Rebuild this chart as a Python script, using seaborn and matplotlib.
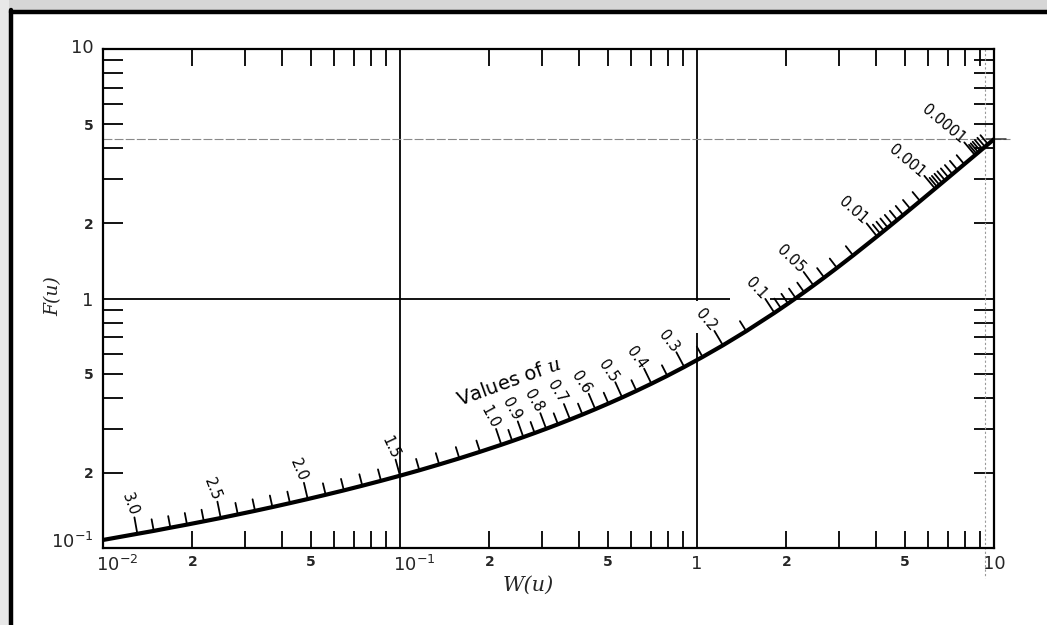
import numpy as np
import pandas as pd
import matplotlib
matplotlib.use("Agg")
import matplotlib.pyplot as plt
from matplotlib.transforms import ScaledTranslation
from matplotlib.patches import Rectangle
from matplotlib.lines import Line2D
import seaborn as sns

# ---------------- data ----------------
# tick marks along the curve: value of u, W(u) and F(u) at each mark
u_ticks = [3.0, 2.9, 2.8, 2.7, 2.6, 2.5, 2.4, 2.3, 2.2, 2.1, 2.0, 1.9, 1.8, 1.7,
           1.6, 1.5, 1.4, 1.3, 1.2, 1.1, 1.0, 0.95, 0.9, 0.85, 0.8, 0.75, 0.7,
           0.65, 0.6, 0.55, 0.5, 0.45, 0.4, 0.35, 0.3, 0.25, 0.2, 0.15, 0.1,
           0.09, 0.08, 0.07, 0.06, 0.05, 0.04, 0.03, 0.02, 0.01, 0.009, 0.008,
           0.007, 0.006, 0.005, 0.004, 0.003, 0.002, 0.001, 0.0009, 0.0008,
           0.0007, 0.0006, 0.0005, 0.0004, 0.0003, 0.0002, 0.0001, 0.00009,
           0.00008, 0.00007, 0.00006, 0.00005, 0.00004]
W_ticks = [0.01305, 0.01482, 0.01686, 0.01918, 0.02185, 0.02491, 0.02844,
           0.03250, 0.03719, 0.04261, 0.04890, 0.05620, 0.06471, 0.07465,
           0.08631, 0.1000, 0.1162, 0.1355, 0.1584, 0.1860, 0.2194, 0.2387,
           0.2602, 0.2840, 0.3106, 0.3403, 0.3738, 0.4115, 0.4544, 0.5034,
           0.5598, 0.6253, 0.7024, 0.7942, 0.9057, 1.0443, 1.2227, 1.4645,
           1.8229, 1.9187, 2.0269, 2.1508, 2.2953, 2.4679, 2.6813, 2.9591,
           3.3547, 4.0379, 4.1423, 4.2591, 4.3916, 4.5448, 4.7261, 4.9482,
           5.2349, 5.6394, 6.3315, 6.4361, 6.5530, 6.6864, 6.8399, 7.0242,
           7.2472, 7.5348, 7.9402, 8.6332, 8.7386, 8.8563, 8.9899, 9.1440,
           9.3263, 9.5495]
F_ticks = [0.1140, 0.1171, 0.1206, 0.1241, 0.1279, 0.1319, 0.1363, 0.1409,
           0.1459, 0.1513, 0.1571, 0.1634, 0.1702, 0.1777, 0.1859, 0.1949,
           0.2049, 0.2162, 0.2287, 0.2430, 0.2593, 0.2684, 0.2783, 0.2889,
           0.3005, 0.3132, 0.3273, 0.3427, 0.3600, 0.3794, 0.4013, 0.4264,
           0.4556, 0.4900, 0.5316, 0.5830, 0.6493, 0.7398, 0.8759, 0.9128,
           0.9547, 1.0029, 1.0596, 1.1280, 1.2134, 1.3258, 1.4880, 1.7733,
           1.8173, 1.8667, 1.9228, 1.9879, 2.0651, 2.1600, 2.2829, 2.4568,
           2.7556, 2.8008, 2.8514, 2.9092, 2.9757, 3.0555, 3.1522, 3.2770,
           3.4530, 3.7539, 3.7997, 3.8509, 3.9089, 3.9759, 4.0551, 4.1521]
# ends of the curve (at the left and right frame)
curve_start = (0.01, 0.1077)
curve_end = (10.0, 4.35)

labeled_u = [3.0, 2.5, 2.0, 1.5, 1.0, 0.9, 0.8, 0.7, 0.6, 0.5, 0.4, 0.3, 0.2,
             0.1, 0.05, 0.01, 0.001, 0.0001]
labeled_text = ["3.0", "2.5", "2.0", "1.5", "1.0", "0.9", "0.8", "0.7", "0.6",
                "0.5", "0.4", "0.3", "0.2", "0.1", "0.05", "0.01", "0.001",
                "0.0001"]

x_major = [0.01, 0.1, 1, 10]
x_major_labels = [r"$\mathregular{10^{-2}}$", r"$\mathregular{10^{-1}}$", "1", "10"]
y_major = [0.1, 1, 10]
y_major_labels = [r"$\mathregular{10^{-1}}$", "1", "10"]
x_minor = [k * 10.0 ** e for e in (-2, -1, 0) for k in range(2, 10)]
y_minor = [k * 10.0 ** e for e in (-1, 0) for k in range(2, 10)]
minor_names = {2: "2", 5: "5"}

# ---------------- style ----------------
sns.set_style("white")
plt.rcParams["font.family"] = ["DejaVu Sans"]
plt.rcParams["mathtext.fontset"] = "dejavuserif"

W_PX, H_PX = 1047, 625
fig = plt.figure(figsize=(W_PX / 100, H_PX / 100), dpi=100, facecolor="white")

# scanned-page frame
fig.add_artist(Rectangle((0, 1 - 10 / H_PX), 1, 10 / H_PX, transform=fig.transFigure,
                         facecolor="#d6d6d6", edgecolor="none"))
fig.add_artist(Rectangle((0, 0), 9 / W_PX, 1, transform=fig.transFigure,
                         facecolor="#e8e8e8", edgecolor="none"))
fig.add_artist(Line2D([11 / W_PX, 1], [1 - 11.5 / H_PX, 1 - 11.5 / H_PX],
                      transform=fig.transFigure, color="black", lw=3.2))
fig.add_artist(Line2D([11 / W_PX, 11 / W_PX], [0, 1 - 10 / H_PX],
                      transform=fig.transFigure, color="black", lw=3.2))

L, R, T, B = 103, 994, 49, 548
ax = fig.add_axes([L / W_PX, 1 - B / H_PX, (R - L) / W_PX, (B - T) / H_PX])
ax.set_xscale("log")
ax.set_yscale("log")
ax.set_xlim(0.01, 10)
ax.set_ylim(0.1, 10)
ax.set_facecolor("none")
for s in ax.spines.values():
    s.set_linewidth(1.6)
    s.set_color("black")


def minor_label(v):
    mant = int(round(v / 10 ** np.floor(np.log10(v) + 1e-9)))
    return minor_names.get(mant, "")


# ticks
ax.set_xticks(x_major, labels=x_major_labels, fontsize=13)
ax.set_yticks(y_major, labels=y_major_labels, fontsize=13)
ax.set_xticks(x_minor, labels=[minor_label(v) for v in x_minor], minor=True,
              fontsize=10, fontweight="bold")
ax.set_yticks(y_minor, labels=[minor_label(v) for v in y_minor], minor=True,
              fontsize=10, fontweight="bold")
ax.tick_params(which="both", direction="in", top=True, right=True, bottom=True,
               left=True, labeltop=False, labelright=False, labelbottom=True,
               labelleft=True, color="black", width=1.3)
ax.tick_params(which="major", length=0)
ax.tick_params(axis="x", which="minor", length=12.5)
ax.tick_params(axis="y", which="minor", length=14.5)
ax.tick_params(axis="x", which="both", pad=5)
ax.tick_params(axis="y", which="both", pad=7)

# nudge the power-of-ten labels as in the original
xl = ax.get_xticklabels()
for lab in xl[:2]:
    lab.set_transform(lab.get_transform() + ScaledTranslation(0.14, 0, fig.dpi_scale_trans))
yl = ax.get_yticklabels()
yl[0].set_transform(yl[0].get_transform() + ScaledTranslation(0, 0.08, fig.dpi_scale_trans))
yl[2].set_transform(yl[2].get_transform() + ScaledTranslation(0, 0.03, fig.dpi_scale_trans))

ax.set_xlabel("W(u)", family="DejaVu Serif", style="italic", fontsize=15)
ax.set_ylabel("F(u)", family="DejaVu Serif", style="italic", fontsize=13.5)
ax.xaxis.set_label_coords((528 - L) / (R - L), -(585 - B) / (B - T))
ax.yaxis.set_label_coords((53 - L) / (R - L), (B - 296) / (B - T))
ax.xaxis.label.set_va("center")
ax.yaxis.label.set_va("center")

# grid lines of the nomogram
kw = dict(color="black", lw=1.3, solid_capstyle="butt")
ax.plot([0.1, 0.1], [0.1, 10], **kw)
ax.plot([1, 1], [10, 0.975], **kw)
ax.plot([1, 1], [0.73, 0.1], **kw)
ax.plot([0.01, 1.29], [1, 1], **kw)
ax.plot([1.76, 10], [1, 1], **kw)
# faint scan guide lines
ax.plot([0.01, 11.3], [4.35, 4.35], color="#8a8a8a", lw=0.8, ls=(0, (8, 2)), clip_on=False)
ax.plot([9.4, 11.0], [4.35, 4.35], color="#333333", lw=1.1, clip_on=False)
ax.plot([9.33, 9.33], [10, 0.076], color="#9a9a9a", lw=0.8, ls=(0, (2, 2)), clip_on=False)

# the curve
df = pd.DataFrame({"W": [curve_start[0]] + W_ticks + [curve_end[0]],
                   "F": [curve_start[1]] + F_ticks + [curve_end[1]]})
df = df.sort_values("W")
sns.lineplot(data=df, x="W", y="F", color="black", lw=3.0, estimator=None,
             sort=False, legend=False, ax=ax)

# tick marks and labels along the curve
order = np.argsort(W_ticks)
Wt = np.array(W_ticks)[order]
Ft = np.array(F_ticks)[order]
ut = np.array(u_ticks)[order]
disp = ax.transData.transform(np.column_stack([Wt, Ft]))
dx = np.gradient(disp[:, 0])
dy = np.gradient(disp[:, 1])
ang = np.degrees(np.arctan2(dy, dx))
for Wv, Fv, uv, a in zip(Wt, Ft, ut, ang):
    nrm = np.radians(a + 90)
    nx, ny = np.cos(nrm), np.sin(nrm)
    hit = [i for i, lu in enumerate(labeled_u) if np.isclose(lu, uv)]
    length = 12.0 if hit else 8.5  # points
    ax.annotate("", xy=(Wv, Fv), xycoords="data",
                xytext=(nx * length, ny * length), textcoords="offset points",
                arrowprops=dict(arrowstyle="-", color="black", lw=1.3,
                                shrinkA=0, shrinkB=0))
    if hit:
        gap = length + 1.5
        ax.annotate(labeled_text[hit[0]], xy=(Wv, Fv), xycoords="data",
                    xytext=(nx * gap, ny * gap), textcoords="offset points",
                    rotation=a - 80, rotation_mode="anchor", ha="right",
                    va="center", fontsize=10.5, color="black")

ax.text(0.233, 0.46, r"Values of $\mathit{u}$", rotation=20, rotation_mode="anchor",
        ha="center", va="center", fontsize=14, color="black")

fig.savefig("out.png", dpi=100, facecolor="white")
